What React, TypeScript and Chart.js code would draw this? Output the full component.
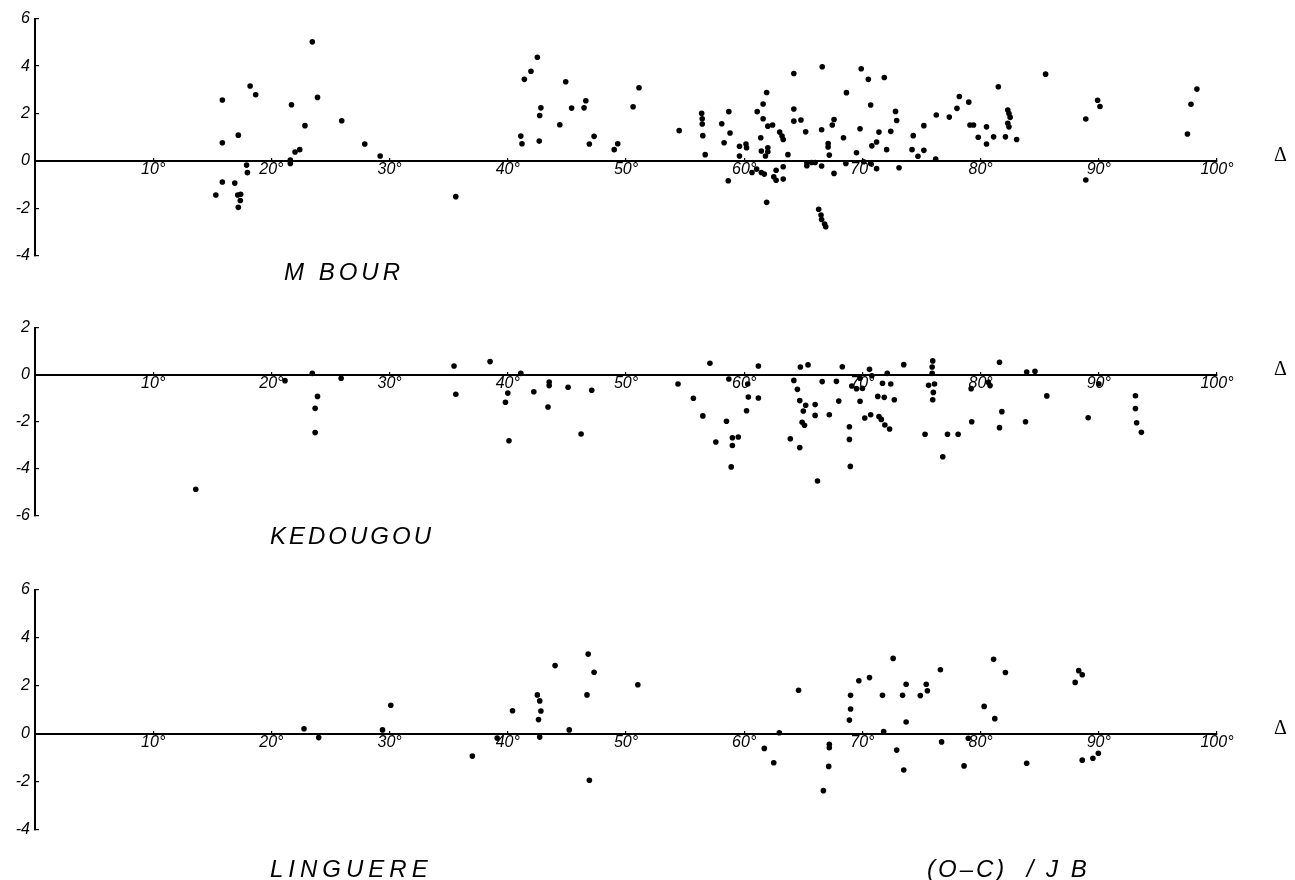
import React, { useEffect, useRef } from 'react';
import { Chart, registerables } from 'chart.js';

Chart.register(...registerables);

// ---------- DATA ----------
const degreeTicks = [0, 10, 20, 30, 40, 50, 60, 70, 80, 90, 100];

// M BOUR : epicentral distance (deg) and O-C residual (s)
const mbourDelta = [
  15.3, 15.85, 15.85, 15.85, 16.9, 17.2, 17.15, 17.4, 17.37, 17.2, 18.2, 18.67, 17.9, 17.97,
  21.7, 21.6, 21.6, 22.0, 22.4, 22.84, 23.46, 23.9, 25.95, 27.9, 29.2, 35.6,
  41.1, 41.2, 41.4, 41.96, 42.5, 42.7, 42.8, 42.66, 44.4, 44.9, 45.4, 46.45, 46.6, 46.9, 47.3,
  49.0, 49.3, 50.6, 51.1,
  54.5, 56.4, 56.45, 56.45, 56.5, 56.7, 58.1, 58.3, 58.7, 58.8, 58.65, 59.6, 59.6, 60.15, 60.2,
  60.66, 61.1, 61.6, 61.9, 61.6, 61.4, 61.45, 61.8, 62.0, 62.0, 61.05, 61.45, 61.7, 61.9, 62.0,
  62.4, 63.0, 63.2, 63.3, 62.7, 62.5, 62.7, 63.3, 63.3, 63.7, 64.2, 64.2, 64.2, 64.8, 65.2,
  65.3, 65.3, 65.7, 66.0, 66.55, 66.55, 66.6, 66.3, 66.5, 66.55, 66.8, 66.9, 67.1, 67.1, 67.2,
  67.45, 67.6, 67.6, 68.4, 68.6, 68.65, 69.5, 69.8, 69.9, 70.1, 70.5, 70.7, 70.7, 70.8, 71.2,
  71.2, 71.4, 71.85, 72.05, 72.4, 72.8, 72.9, 73.1, 74.2, 74.3, 74.7, 75.2, 75.2, 76.2, 76.25,
  77.35, 78.0, 78.2, 79.0, 79.1, 79.4, 79.8, 80.5, 80.5, 81.1, 81.5,
  82.1, 82.3, 82.4, 82.5, 82.3, 82.4, 83.05, 85.5, 88.9, 88.9, 89.9, 90.1, 97.5, 97.8, 98.3,
];
const mbourResidual = [
  -1.43, 2.57, 0.77, -0.88, -0.93, 1.09, -1.43, -1.4, -1.66, -1.95, 3.16, 2.79, -0.17, -0.49,
  2.37, 0.04, -0.1, 0.38, 0.48, 1.49, 5.02, 2.68, 1.7, 0.72, 0.21, -1.5,
  1.05, 0.73, 3.44, 3.78, 4.37, 1.92, 2.24, 0.84, 1.53, 3.34, 2.23, 2.24, 2.54, 0.72, 1.04,
  0.48, 0.73, 2.29, 3.09,
  1.28, 2.01, 1.78, 1.56, 1.07, 0.27, 1.57, 0.77, 2.08, 1.18, -0.83, 0.62, 0.21, 0.72, 0.56,
  -0.48, 2.08, 2.4, 2.89, 1.78, 0.98, 0.42, 0.21, 0.56, 0.39, -0.34, -0.48, -0.55, -1.74, 1.47,
  1.52, 1.22, 1.05, 0.91, -0.39, -0.66, -0.81, -0.76, -0.24, 0.27, 3.69, 2.19, 1.68, 1.73, 1.23,
  -0.07, -0.2, -0.06, -0.06, 1.32, -0.21, 3.97, -2.03, -2.27, -2.46, -2.65, -2.77, 0.74, 0.59, 0.25,
  1.52, 1.75, -0.52, 0.98, -0.1, 2.88, 0.35, 1.36, 3.89, -0.03, 3.44, 2.36, -0.1, 0.64, 0.8,
  -0.32, 1.22, 3.52, 0.48, 1.25, 2.09, 1.71, -0.28, 0.48, 1.07, 0.2, 1.49, 0.45, 0.08, 1.94,
  1.85, 2.22, 2.72, 2.48, 1.52, 1.52, 1.0, 0.72, 1.44, 1.02, 3.13,
  1.02, 2.15, 2.0, 1.84, 1.59, 1.44, 0.91, 3.66, 1.77, -0.8, 2.56, 2.3, 1.14, 2.39, 3.03,
];
const mbourYTicks = [-4, -2, 0, 2, 4, 6];

// KEDOUGOU
const kedougouDelta = [
  13.6, 21.15, 23.46, 23.9, 23.7, 23.7, 25.9, 35.45, 35.6, 38.5, 39.8, 40.0, 40.1, 41.1, 42.2,
  43.5, 43.5, 43.4, 45.1, 46.2, 47.1,
  54.4, 55.7, 56.5, 57.1, 57.6, 58.5, 58.7, 59.0, 59.5, 59.0, 58.9, 60.3, 60.35, 60.2, 61.2,
  61.2, 63.9, 64.2, 64.5, 64.75, 65.4, 64.7, 65.2, 65.0, 64.9, 65.1, 64.7, 66.0, 66.0, 66.2,
  66.6, 67.2, 67.8, 68.0, 68.3, 68.9, 68.9, 68.98, 69.1, 69.5, 69.8, 69.8, 70.0, 70.2, 70.6,
  70.8, 70.7, 71.3, 71.4, 71.6, 71.7, 71.85, 71.9, 72.3, 72.1, 72.4, 72.7, 73.5, 75.3, 75.6,
  75.95, 75.9, 75.9, 76.1, 76.0, 75.95, 76.8, 77.2, 78.1, 79.2, 79.25, 80.65, 80.8, 81.6, 81.6,
  81.8, 83.9, 84.6, 85.6, 83.8, 89.1, 90.0, 93.1, 93.1, 93.2, 93.6,
];
const kedougouResidual = [
  -4.86, -0.24, 0.07, -0.91, -1.42, -2.45, -0.14, 0.38, -0.82, 0.57, -1.16, -0.77, -2.8, 0.07, -0.71,
  -0.3, -0.45, -1.36, -0.52, -2.51, -0.65,
  -0.38, -0.99, -1.74, 0.5, -2.85, -1.97, -0.17, -2.67, -2.64, -3.0, -3.91, -0.38, -0.94, -1.52, 0.38,
  -0.98, -2.71, -0.23, -0.61, 0.34, 0.43, -1.09, -1.29, -1.53, -2.01, -2.14, -3.09, -1.26, -1.72, -4.51,
  -0.28, -1.69, -0.27, -1.11, 0.35, -2.2, -2.74, -3.89, -0.47, -0.58, -0.14, -1.12, -0.57, -1.83, 0.24,
  -0.03, -1.69, -0.91, -1.77, -1.89, -0.35, -0.95, -2.13, -2.3, 0.07, -0.38, -1.05, 0.44, -2.52, -0.44,
  0.6, 0.34, 0.07, -0.38, -0.74, -1.05, -3.48, -2.52, -2.52, -0.58, -1.99, -0.31, -0.45, 0.54, -2.24,
  -1.56, 0.13, 0.16, -0.89, -1.99, -1.82, -0.37, -0.88, -1.43, -2.03, -2.44,
];
const kedougouYTicks = [-6, -4, -2, 0, 2];

// LINGUERE
const linguereDelta = [
  22.76, 24.0, 29.4, 30.1, 37.0, 39.1, 40.4, 42.5, 42.7, 42.8, 42.6, 42.7, 44.0, 45.2, 46.8,
  46.7, 47.3, 46.9, 51.0,
  62.97, 61.7, 62.5, 64.6, 66.7, 67.2, 67.2, 67.15, 68.9, 69.0, 69.0, 69.7, 70.6, 71.7, 71.8,
  72.6, 72.9, 73.4, 73.5, 73.7, 73.7, 74.9, 75.4, 75.5, 76.6, 76.7, 78.6, 78.96, 80.3, 81.1,
  81.2, 82.1, 83.9, 88.0, 88.3, 88.6, 88.6, 89.5, 89.96,
];
const linguereResidual = [
  0.22, -0.15, 0.17, 1.2, -0.92, -0.17, 0.97, 1.63, 1.38, 0.96, 0.6, -0.13, 2.85, 0.17, 3.33,
  1.63, 2.57, -1.93, 2.05,
  0.05, -0.6, -1.2, 1.82, -2.36, -0.43, -0.57, -1.35, 0.58, 1.04, 1.61, 2.22, 2.35, 1.61, 0.1,
  3.15, -0.67, 1.61, -1.5, 2.07, 0.5, 1.6, 2.07, 1.8, 2.68, -0.33, -1.33, -0.18, 1.15, 3.11,
  0.64, 2.56, -1.22, 2.15, 2.64, 2.47, -1.09, -1.01, -0.8,
];
const linguereYTicks = [-4, -2, 0, 2, 4, 6];

// ---------- LAYOUT ----------
const TICK_FONT = '"Liberation Sans", "DejaVu Sans", Arial, sans-serif';
const WIDTH = 1295;

type Label = { text: string; x: number; y: number; spacing: number };
type Panel = {
  name: string;
  delta: number[];
  residual: number[];
  yTicks: number[];
  top: number;
  height: number;
  padTop: number;
  padBottom: number;
  labels: Label[];
};

const panels: Panel[] = [
  {
    name: 'mbour', delta: mbourDelta, residual: mbourResidual, yTicks: mbourYTicks,
    top: 0, height: 300, padTop: 18.5, padBottom: 44,
    labels: [{ text: 'M BOUR', x: 284, y: 280, spacing: 4 }],
  },
  {
    name: 'kedougou', delta: kedougouDelta, residual: kedougouResidual, yTicks: kedougouYTicks,
    top: 305, height: 245, padTop: 23, padBottom: 34,
    labels: [{ text: 'KEDOUGOU', x: 270, y: 544, spacing: 3 }],
  },
  {
    name: 'linguere', delta: linguereDelta, residual: linguereResidual, yTicks: linguereYTicks,
    top: 560, height: 320, padTop: 30, padBottom: 50,
    labels: [
      { text: 'LINGUERE', x: 270, y: 877, spacing: 5 },
      { text: '(O–C)  / J B', x: 927, y: 877, spacing: 3 },
    ],
  },
];

function drawSpaced(ctx: CanvasRenderingContext2D, text: string, x: number, y: number, spacing: number) {
  let cx = x;
  for (const ch of text) {
    ctx.fillText(ch, cx, y);
    cx += ctx.measureText(ch).width + spacing;
  }
}

function makeTextPlugin(p: Panel) {
  return {
    id: 'panelText_' + p.name,
    afterDraw(chart: any) {
      const ctx: CanvasRenderingContext2D = chart.ctx;
      ctx.save();
      ctx.fillStyle = '#000';
      ctx.textBaseline = 'alphabetic';
      ctx.textAlign = 'left';
      ctx.font = 'italic 24px ' + TICK_FONT;
      for (const l of p.labels) {
        drawSpaced(ctx, l.text, l.x, l.y - p.top, l.spacing);
      }
      // Delta symbol at the right end of the zero line
      const y0 = chart.scales.y.getPixelForValue(0);
      ctx.font = '20px "Liberation Serif", "DejaVu Serif", serif';
      ctx.fillText('Δ', chart.chartArea.right + 57, y0);
      ctx.restore();
    },
  };
}

function PanelChart({ p }: { p: Panel }) {
  const ref = useRef<HTMLCanvasElement | null>(null);
  useEffect(() => {
    if (!ref.current) return;
    const points = p.delta.map((d, i) => ({ x: d, y: p.residual[i] }));
    const yMin = Math.min(...p.yTicks);
    const yMax = Math.max(...p.yTicks);
    const chart = new Chart(ref.current, {
      type: 'scatter',
      data: {
        datasets: [
          {
            data: points,
            pointRadius: 2.8,
            pointBackgroundColor: '#000',
            pointBorderColor: '#000',
            pointBorderWidth: 0,
            showLine: false,
          },
        ],
      },
      options: {
        animation: false,
        responsive: false,
        devicePixelRatio: 1,
        layout: { padding: { left: 0, right: 78, top: p.padTop, bottom: p.padBottom } },
        plugins: {
          legend: { display: false },
          tooltip: { enabled: false },
          title: { display: false },
        },
        scales: {
          x: {
            type: 'linear',
            position: { y: 0 } as any,
            min: 0,
            max: 100,
            afterBuildTicks: (s: any) => {
              s.ticks = degreeTicks.map((v) => ({ value: v }));
            },
            afterFit: (s: any) => {
              s.height = 0;
            },
            grid: {
              display: true,
              drawOnChartArea: false,
              drawTicks: true,
              tickLength: -4,
              color: '#000',
              lineWidth: 1.2,
            },
            border: { display: true, color: '#000', width: 2 },
            ticks: {
              padding: 3,
              autoSkip: false,
              maxRotation: 0,
              color: '#000',
              font: { family: TICK_FONT, size: 16, style: 'italic' },
              callback: (v: any) => (Number(v) === 0 ? '' : v + '°'),
            },
          },
          y: {
            type: 'linear',
            position: 'left',
            min: yMin,
            max: yMax,
            afterBuildTicks: (s: any) => {
              s.ticks = p.yTicks.map((v) => ({ value: v }));
            },
            afterFit: (s: any) => {
              s.width = 35;
            },
            grid: {
              display: true,
              drawOnChartArea: false,
              drawTicks: true,
              tickLength: -4,
              color: '#000',
              lineWidth: 1.2,
            },
            border: { display: true, color: '#000', width: 2 },
            ticks: {
              padding: 9,
              color: '#000',
              font: { family: TICK_FONT, size: 16, style: 'italic' },
              callback: (v: any) => String(v),
            },
          },
        },
      } as any,
      plugins: [makeTextPlugin(p)],
    });
    return () => chart.destroy();
  }, [p]);
  return (
    <canvas
      ref={ref}
      width={WIDTH}
      height={p.height}
      style={{ position: 'absolute', left: 0, top: p.top, width: WIDTH, height: p.height, display: 'block' }}
    />
  );
}

export default function App() {
  return (
    <div style={{ position: 'absolute', left: 0, top: 0, width: WIDTH, height: 880, background: '#fff', overflow: 'hidden' }}>
      {panels.map((p) => (
        <PanelChart key={p.name} p={p} />
      ))}
    </div>
  );
}
